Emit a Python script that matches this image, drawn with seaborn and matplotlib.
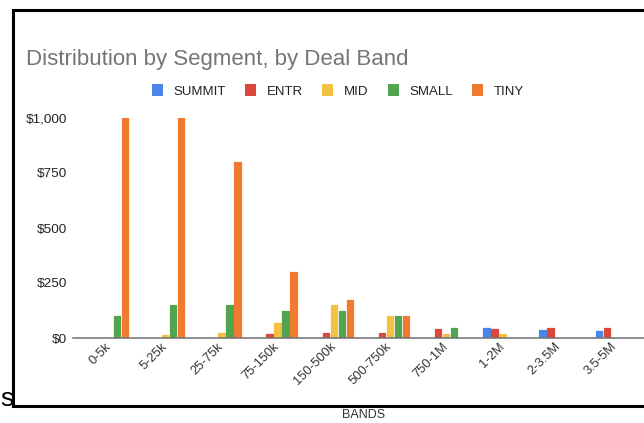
import numpy as np
import pandas as pd
import matplotlib
matplotlib.use("Agg")
import matplotlib.pyplot as plt
from matplotlib.lines import Line2D
from matplotlib.patches import Patch
import seaborn as sns

# Deal bands along the x axis
bands = ["0-5k", "5-25k", "25-75k", "75-150k", "150-500k",
         "500-750k", "750-1M", "1-2M", "2-3.5M", "3.5-5M"]
segments = ["SUMMIT", "ENTR", "MID", "SMALL", "TINY"]

# Amount per segment in each band (NaN = no deals in that band)
summit = [np.nan, np.nan, np.nan, np.nan, np.nan, np.nan, np.nan, 45, 35, 30]
entr   = [np.nan, np.nan, np.nan, 20, 25, 25, 40, 40, 45, 45]
mid    = [np.nan, 15, 25, 70, 150, 100, 20, 20, np.nan, np.nan]
small  = [100, 150, 150, 125, 125, 100, 45, np.nan, np.nan, np.nan]
tiny   = [1000, 1000, 800, 300, 175, 100, np.nan, np.nan, np.nan, np.nan]

y_ticks = [0, 250, 500, 750, 1000]
y_tick_labels = ["$0", "$250", "$500", "$750", "$1,000"]

colors = ["#4a86e8", "#d9483b", "#f4c142", "#52a44f", "#ef7a30"]

series = dict(zip(segments, [summit, entr, mid, small, tiny]))
df = pd.DataFrame(
    [(b, seg, v) for seg, vals in series.items() for b, v in zip(bands, vals)],
    columns=["band", "segment", "value"],
).dropna()

sns.set_style("white")
plt.rcParams["font.family"] = ["Liberation Sans", "DejaVu Sans"]

W, H = 644, 423
fig = plt.figure(figsize=(W / 100, H / 100), dpi=100)
ax = fig.add_axes([73 / W, (H - 338) / H, (W - 73) / W, 220 / H])

sns.barplot(data=df, x="band", y="value", hue="segment",
            order=bands, hue_order=segments, palette=colors, saturation=1,
            width=0.71, gap=0.2, errorbar=None, legend=False, ax=ax)

# soften the bar corners
for p in ax.patches:
    p.set_edgecolor(p.get_facecolor())
    p.set_linewidth(0.9)
    p.set_joinstyle("round")

ax.set_xlim(-0.64, 9.52)
ax.set_ylim(0, 1000)
ax.set_yticks(y_ticks)
ax.set_yticklabels(y_tick_labels)
ax.tick_params(axis="y", length=0, pad=4.5, labelsize=9.7, labelcolor="#222222")
ax.tick_params(axis="x", length=0, pad=5, labelsize=9.3, labelcolor="#333333")
for lab in ax.get_xticklabels():
    lab.set_rotation(45)
    lab.set_ha("right")
    lab.set_va("center")
    lab.set_rotation_mode("anchor")

ax.set_xlabel("")
ax.set_ylabel("")
for s in ["top", "right", "left"]:
    ax.spines[s].set_visible(False)
ax.spines["bottom"].set_color("#707070")
ax.spines["bottom"].set_linewidth(1.1)
ax.spines["bottom"].set_zorder(5)
ax.grid(False)

# chart title
fig.text(26 / W, 1 - 60 / H, "Distribution by Segment, by Deal Band",
         fontsize=16, color="#757575", ha="left", va="center")

# legend row
handles = [Patch(facecolor=c, edgecolor="none") for c in colors]
fig.legend(handles, segments, loc="center", ncol=5, frameon=False,
           bbox_to_anchor=(338 / W, 1 - 91 / H), fontsize=9.5,
           handlelength=0.85, handleheight=1.0, handletextpad=0.8,
           columnspacing=1.45, labelcolor="#222222")

# axis title under the frame
fig.text(364 / W, 1 - 415 / H, "BANDS", fontsize=9, color="#333333",
         ha="center", va="center")

# surrounding frame
xs = [1.02, 13 / W, 13 / W, 1.02]
ys = [1 - 10 / H, 1 - 10 / H, 1 - 406 / H, 1 - 406 / H]
fig.add_artist(Line2D(xs, ys, transform=fig.transFigure, color="black",
                      linewidth=2.2, solid_joinstyle="miter"))

# stray letter at the left edge
fig.text(0.5 / W, 1 - 399 / H, "s", fontsize=19, color="black",
         ha="left", va="center")

fig.savefig("out.png", dpi=100)
